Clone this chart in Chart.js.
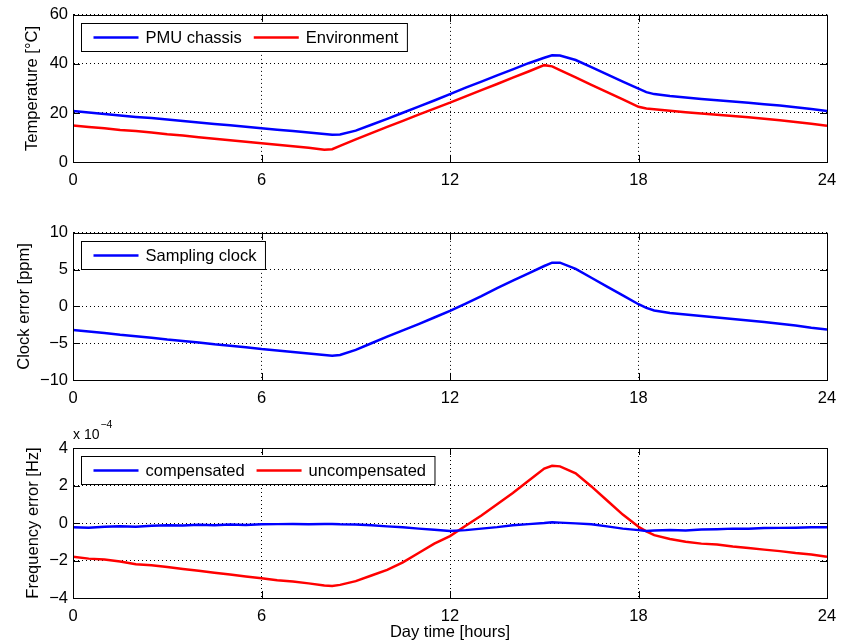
<!DOCTYPE html>
<html>
<head>
<meta charset="utf-8">
<script src="https://cdn.jsdelivr.net/npm/chart.js@4.4.1/dist/chart.umd.min.js"></script>
<style>
  html, body { margin: 0; padding: 0; background: #fff; }
  #wrap { position: relative; width: 850px; height: 642px; }
  canvas { position: absolute; left: 0; }
</style>
</head>
<body>
<div id="wrap">
  <canvas id="tempChart" width="850" height="200" style="top:0px"></canvas>
  <canvas id="clockChart" width="850" height="200" style="top:218px"></canvas>
  <canvas id="freqChart" width="850" height="224" style="top:418px"></canvas>
</div>
<script>
// time of day [hours]
const hours = [0, 0.5, 1, 1.5, 2, 2.5, 3, 3.5, 4, 4.5, 5, 5.5, 6, 6.5, 7, 7.5, 8,
  8.25,
  8.5, 9, 9.5, 10, 10.5, 11, 11.5, 12, 12.5, 13, 13.5, 14, 14.5, 15,
  15.25,
  15.5, 16, 16.5, 17, 17.5, 18,
  18.25,
  18.5, 19, 19.5, 20, 20.5, 21, 21.5, 22, 22.5, 23, 23.5, 24];

// temperature [°C]
const pmuChassis = [20.8, 20.2, 19.6, 19.0, 18.4, 17.9, 17.3, 16.7, 16.1, 15.5, 15.0, 14.4, 13.8, 13.2, 12.6, 12.0, 11.4,
  11.1,
  11.2, 12.8, 15.2, 17.6, 20.1, 22.6, 25.1, 27.7, 30.3, 32.8, 35.3, 37.8, 40.3, 42.5,
  43.5,
  43.4, 41.6, 38.7, 35.7, 32.8, 29.9,
  28.5,
  27.7, 26.9, 26.3, 25.7, 25.2, 24.7, 24.2, 23.6, 23.0, 22.3, 21.6, 20.8];
const environment = [14.9, 14.3, 13.8, 13.1, 12.6, 12.0, 11.3, 10.8, 10.1, 9.5, 8.9, 8.3, 7.6, 7.0, 6.4, 5.8, 5.0,
  5.2,
  6.6, 9.2, 11.8, 14.3, 16.8, 19.3, 21.8, 24.2, 26.8, 29.3, 31.8, 34.4, 36.9, 39.5,
  39.0,
  37.5, 34.5, 31.5, 28.5, 25.5, 22.5,
  21.8,
  21.5, 20.9, 20.3, 19.8, 19.3, 18.8, 18.3, 17.6, 17.0, 16.3, 15.6, 14.8];

// clock error [ppm]
const samplingClock = [-3.2, -3.4, -3.6, -3.85, -4.05, -4.25, -4.5, -4.7, -4.9, -5.15, -5.35, -5.55, -5.8, -6.0, -6.2, -6.4, -6.6,
  -6.7,
  -6.6, -5.9, -5.0, -4.1, -3.25, -2.4, -1.5, -0.6, 0.4, 1.4, 2.5, 3.5, 4.5, 5.5,
  5.95,
  5.95, 5.1, 3.9, 2.7, 1.5, 0.3,
  -0.2,
  -0.55, -0.9, -1.1, -1.3, -1.5, -1.7, -1.9, -2.1, -2.35, -2.6, -2.9, -3.15];

// frequency error [x 1e-4 Hz]
const compensated = [-0.22, -0.25, -0.2, -0.18, -0.2, -0.15, -0.12, -0.13, -0.1, -0.12, -0.08, -0.1, -0.07, -0.06, -0.05, -0.06, -0.05,
  -0.05,
  -0.07, -0.08, -0.12, -0.18, -0.23, -0.3, -0.36, -0.42, -0.38, -0.3, -0.22, -0.12, -0.06, 0.0,
  0.04,
  0.02, -0.02, -0.07, -0.18, -0.3, -0.38,
  -0.42,
  -0.4, -0.37, -0.4, -0.35, -0.33, -0.3, -0.3, -0.27, -0.26, -0.25, -0.23, -0.22];
const uncompensated = [-1.8, -1.9, -1.95, -2.05, -2.2, -2.25, -2.35, -2.45, -2.55, -2.65, -2.75, -2.85, -2.95, -3.05, -3.12, -3.22, -3.33,
  -3.36,
  -3.3, -3.1, -2.8, -2.5, -2.1, -1.6, -1.1, -0.7, -0.15, 0.4, 1.0, 1.6, 2.25, 2.9,
  3.05,
  3.02, 2.65, 1.95, 1.2, 0.45, -0.2,
  -0.45,
  -0.65, -0.85, -1.0, -1.1, -1.15, -1.25, -1.33, -1.42, -1.5, -1.6, -1.68, -1.8];

// tick values
const hourTicks = [0, 6, 12, 18, 24];
const tempTicks = [0, 20, 40, 60];
const clockTicks = [-10, -5, 0, 5, 10];
const freqTicks = [-4, -2, 0, 2, 4];

const FONT = '"Liberation Sans", Arial, Helvetica, sans-serif';
const FS = 16.5;
Chart.defaults.font.family = FONT;
Chart.defaults.font.size = FS;
Chart.defaults.color = '#000';

function pts(ys) {
  return hours.map((h, i) => ({ x: h, y: ys[i] }));
}

function fmt(v) {
  return v < 0 ? '\u2212' + Math.abs(v) : String(v);
}

// matlab look: full box, inward ticks, boxed legend, exponent label
const matlabBox = {
  id: 'matlabBox',
  afterDraw(chart, args, opts) {
    const { ctx, chartArea: a, scales } = chart;
    ctx.save();
    ctx.strokeStyle = '#000';
    ctx.lineWidth = 1;
    ctx.strokeRect(Math.round(a.left) + 0.5, Math.round(a.top) + 0.5,
      Math.round(a.right - a.left), Math.round(a.bottom - a.top));

    ctx.beginPath();
    scales.x.ticks.forEach(t => {
      const px = Math.round(scales.x.getPixelForValue(t.value)) + 0.5;
      ctx.moveTo(px, a.bottom); ctx.lineTo(px, a.bottom - 7);
      ctx.moveTo(px, a.top); ctx.lineTo(px, a.top + 7);
    });
    scales.y.ticks.forEach(t => {
      const py = Math.round(scales.y.getPixelForValue(t.value)) + 0.5;
      ctx.moveTo(a.left, py); ctx.lineTo(a.left + 7, py);
      ctx.moveTo(a.right, py); ctx.lineTo(a.right - 7, py);
    });
    ctx.stroke();

    // legend box
    const sets = chart.data.datasets;
    ctx.font = FS + 'px ' + FONT;
    let w = 12;
    sets.forEach((d, i) => {
      w += 45 + 7 + ctx.measureText(d.label).width + (i < sets.length - 1 ? 12 : 9);
    });
    const bx = Math.round(a.left + 8) + 0.5;
    const by = Math.round(a.top + 8) + 0.5;
    const bh = 28;
    ctx.fillStyle = '#fff';
    ctx.fillRect(bx, by, w, bh);
    ctx.strokeRect(bx, by, w, bh);
    const cy = by + bh / 2;
    let x = bx + 12;
    ctx.textBaseline = 'middle';
    ctx.textAlign = 'left';
    sets.forEach(d => {
      ctx.strokeStyle = d.borderColor;
      ctx.lineWidth = 2.5;
      ctx.beginPath();
      ctx.moveTo(x, cy); ctx.lineTo(x + 45, cy);
      ctx.stroke();
      x += 52;
      ctx.fillStyle = '#000';
      ctx.fillText(d.label, x, cy + 1);
      x += ctx.measureText(d.label).width + 12;
    });

    if (opts.exponent) {
      ctx.fillStyle = '#000';
      ctx.font = '14px ' + FONT;
      ctx.fillText('x 10', a.left, a.top - 13);
      const ew = ctx.measureText('x 10').width;
      ctx.font = '10.5px ' + FONT;
      ctx.fillText(opts.exponent, a.left + ew + 1, a.top - 23);
    }
    ctx.restore();
  }
};

function panelOptions(cfg) {
  return {
    responsive: false,
    animation: false,
    layout: { padding: { left: 0, right: 23, top: cfg.top, bottom: 0 } },
    plugins: {
      legend: { display: false },
      tooltip: { enabled: false },
      matlabBox: { exponent: cfg.exponent || null }
    },
    elements: {
      point: { radius: 0 },
      line: { borderWidth: 2.5, tension: 0 }
    },
    scales: {
      x: {
        type: 'linear',
        min: 0, max: 24,
        afterBuildTicks: s => { s.ticks = hourTicks.map(v => ({ value: v })); },
        ticks: { padding: 9, color: '#000', callback: fmt, maxRotation: 0 },
        grid: { color: '#000', lineWidth: 1, drawTicks: false },
        border: { color: '#000', width: 1, dash: [1, 3] },
        title: cfg.xTitle
          ? { display: true, text: cfg.xTitle, color: '#000', padding: { top: 0, bottom: 0 } }
          : { display: false },
        afterFit: s => { s.height = cfg.xHeight; }
      },
      y: {
        min: cfg.yTicks[0], max: cfg.yTicks[cfg.yTicks.length - 1],
        afterBuildTicks: s => { s.ticks = cfg.yTicks.map(v => ({ value: v })); },
        ticks: { padding: 5, color: '#000', callback: fmt },
        grid: { color: '#000', lineWidth: 1, drawTicks: false },
        border: { color: '#000', width: 1, dash: [1, 3] },
        title: { display: true, text: cfg.yTitle, color: '#000', padding: { top: cfg.titlePad, bottom: 0 } },
        afterFit: s => { s.width = 73; }
      }
    }
  };
}

new Chart(document.getElementById('tempChart'), {
  type: 'line',
  data: {
    datasets: [
      { label: 'PMU chassis', data: pts(pmuChassis), borderColor: '#0000ff' },
      { label: 'Environment', data: pts(environment), borderColor: '#ff0000' }
    ]
  },
  options: panelOptions({ top: 12, xHeight: 38, yTicks: tempTicks, yTitle: 'Temperature [°C]', titlePad: 23 }),
  plugins: [matlabBox]
});

new Chart(document.getElementById('clockChart'), {
  type: 'line',
  data: {
    datasets: [
      { label: 'Sampling clock', data: pts(samplingClock), borderColor: '#0000ff' }
    ]
  },
  options: panelOptions({ top: 12, xHeight: 38, yTicks: clockTicks, yTitle: 'Clock error [ppm]', titlePad: 15 }),
  plugins: [matlabBox]
});

new Chart(document.getElementById('freqChart'), {
  type: 'line',
  data: {
    datasets: [
      { label: 'compensated', data: pts(compensated), borderColor: '#0000ff' },
      { label: 'uncompensated', data: pts(uncompensated), borderColor: '#ff0000' }
    ]
  },
  options: panelOptions({ top: 30, xHeight: 44, yTicks: freqTicks, yTitle: 'Frequency error [Hz]', titlePad: 24,
    xTitle: 'Day time [hours]', exponent: '\u22124' }),
  plugins: [matlabBox]
});
</script>
</body>
</html>
